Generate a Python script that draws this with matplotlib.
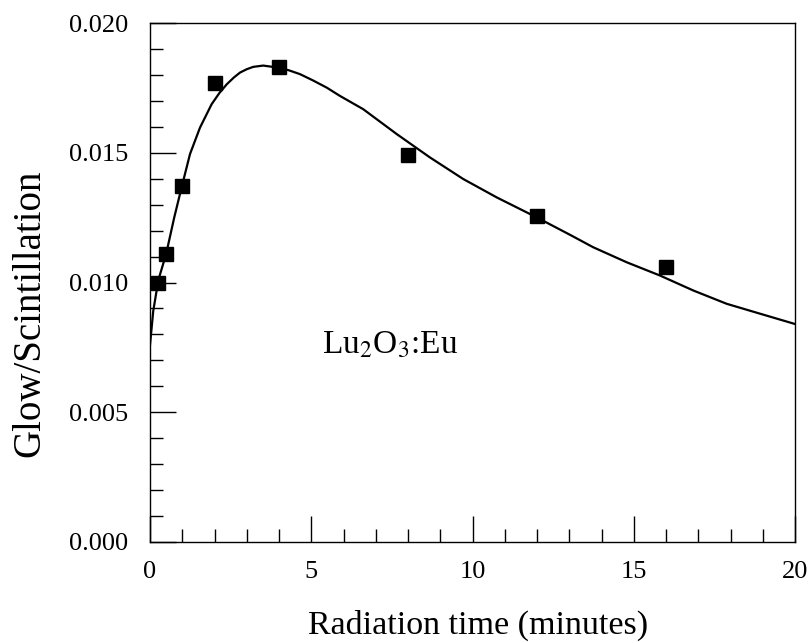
import matplotlib
matplotlib.use("Agg")
import matplotlib.pyplot as plt
from matplotlib.ticker import MultipleLocator, FormatStrFormatter

# measured points (radiation time in minutes, glow/scintillation ratio)
t_meas = [0.25, 0.5, 1.0, 2.0, 4.0, 8.0, 12.0, 16.0]
ratio_meas = [0.0100, 0.0111, 0.0137, 0.0177, 0.0183, 0.0149, 0.01255, 0.0106]

# fitted curve
t_fit = [0.0, 0.1, 0.26, 0.5, 0.75, 0.98, 1.24, 1.55, 1.91, 2.15, 2.38, 2.6, 2.79,
         3.0, 3.2, 3.51, 3.98, 4.3, 4.65, 5.05, 5.48, 5.89, 6.61, 7.65, 8.68,
         9.71, 10.75, 11.99, 13.02, 13.74, 14.78, 15.81, 16.85, 17.88, 18.91, 20.0]
ratio_fit = [0.0076, 0.0089, 0.0101, 0.0111, 0.0125, 0.01367, 0.01495, 0.01597,
             0.01687, 0.0173, 0.01764, 0.0179, 0.01809, 0.01822, 0.01831, 0.01836,
             0.01828, 0.01818, 0.01803, 0.01779, 0.01751, 0.01719, 0.01668,
             0.01572, 0.01482, 0.01399, 0.01328, 0.01251, 0.01184, 0.01136,
             0.01078, 0.01027, 0.00969, 0.00918, 0.0088, 0.0084]

plt.rcParams['font.family'] = ['Liberation Serif', 'DejaVu Serif']

fig = plt.figure(figsize=(8.1, 6.43), dpi=100)
ax = fig.add_axes([0.1852, 0.1571, 0.7963, 0.8071])

ax.plot(t_fit, ratio_fit, color='black', lw=1.6)
ax.plot(t_meas, ratio_meas, 's', color='black', markersize=9.5)

ax.set_xlim(0, 20)
ax.set_ylim(0, 0.020)
ax.xaxis.set_major_locator(MultipleLocator(5))
ax.xaxis.set_minor_locator(MultipleLocator(1))
ax.yaxis.set_major_locator(MultipleLocator(0.005))
ax.yaxis.set_minor_locator(MultipleLocator(0.001))
ax.yaxis.set_major_formatter(FormatStrFormatter('%.3f'))

ax.tick_params(which='both', direction='in', top=False, right=False,
               labelsize=19, width=1)
ax.tick_params(which='major', length=19)
ax.tick_params(which='minor', length=9.5)
ax.tick_params(axis='x', which='major', pad=14)
ax.tick_params(axis='y', which='major', pad=15.5)
for s in ax.spines.values():
    s.set_linewidth(1)

ax.set_xlabel('Radiation time (minutes)', fontsize=24.5)
ax.set_ylabel('Glow/Scintillation', fontsize=28)
ax.xaxis.set_label_coords(0.509, -0.13)
ax.yaxis.set_label_coords(-0.158, 0.441)

ax.text(7.45, 0.0076, r'Lu$_2$O$_3$:Eu', fontsize=24, ha='center', va='center',
        math_fontfamily='stix')

fig.savefig('out.png', dpi=100)
